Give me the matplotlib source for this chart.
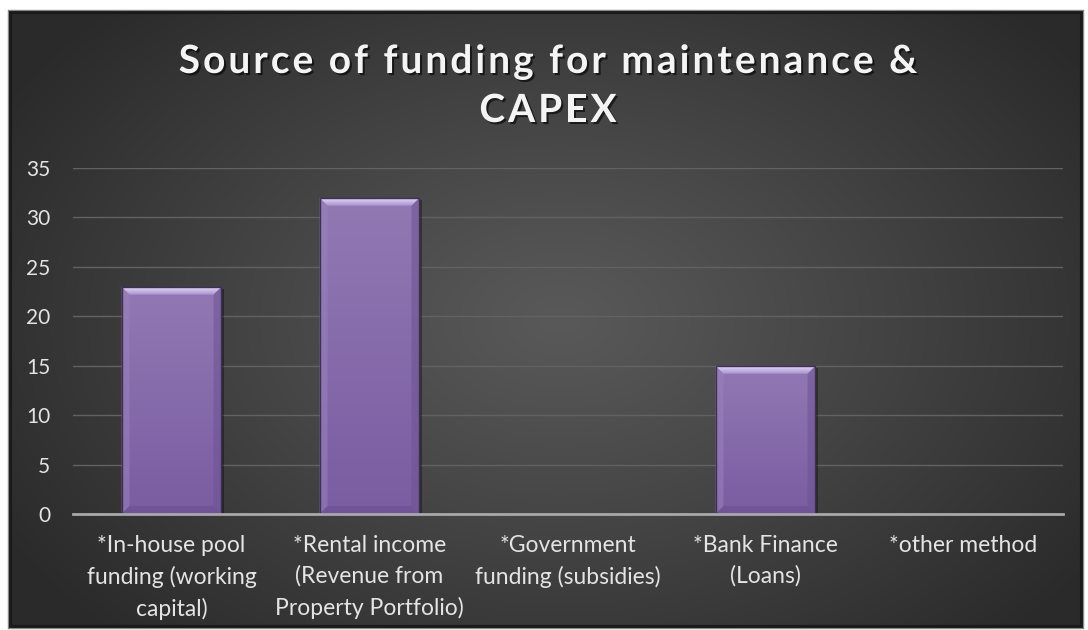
import numpy as np
import matplotlib
matplotlib.use("Agg")
import matplotlib.pyplot as plt
from matplotlib.patches import Rectangle, Polygon
from matplotlib import patheffects as pe
from matplotlib.colors import to_rgb
from matplotlib.font_manager import FontProperties, findfont, get_font

# ---- data -------------------------------------------------------------
categories = [
    "*In-house pool\nfunding (working\ncapital)",
    "*Rental income\n(Revenue from\nProperty Portfolio)",
    "*Government\nfunding (subsidies)",
    "*Bank Finance\n(Loans)",
    "*other method",
]
values = [23, 32, 0, 15, 0]
yticks = [0, 5, 10, 15, 20, 25, 30, 35]
title_lines = ["Source of funding for maintenance &", "CAPEX"]

# ---- figure & chart-area background ------------------------------------
W, H = 1088, 630
DPI = 100
fig = plt.figure(figsize=(W / DPI, H / DPI), dpi=DPI, facecolor="white")

bg = fig.add_axes([0, 0, 1, 1], zorder=0)
fx0, fy0, fx1, fy1 = 8, 10, 1083, 628
yy, xx = np.mgrid[fy0:fy1, fx0:fx1] + 0.5
d = np.sqrt(((xx - 560) / 650) ** 2 + ((yy - 320) / 440) ** 2)
t = np.clip(d, 0, 1) ** 1.1
c_in = np.array(to_rgb("#595959"))
c_out = np.array(to_rgb("#2a2a2a"))
img = c_in * (1 - t[..., None]) + c_out * t[..., None]
bg.imshow(img, extent=[fx0, fx1, fy1, fy0], interpolation="bilinear")
bg.add_patch(Rectangle((fx0 + 1.5, fy0 + 1.5), fx1 - fx0 - 3, fy1 - fy0 - 3,
                       fill=False, ec="#1a1a1a", lw=3))
bg.add_patch(Rectangle((fx0, fy0), fx1 - fx0, fy1 - fy0,
                       fill=False, ec="#8a8a8a", lw=0.8))
bg.set_xlim(0, W)
bg.set_ylim(H, 0)
bg.axis("off")

# ---- title (letter-spaced, drawn glyph by glyph) -----------------------
title_fp = FontProperties(family="Lato", weight="bold", size=28)
ft = get_font(findfont(title_fp))
ft.set_size(28, DPI)


def advances(s):
    out = []
    for ch in s:
        g = ft.load_char(ord(ch))
        out.append(g.linearHoriAdvance / 65536.0)
    return np.array(out)


tracking = 3.0          # extra px between letters
title_cx = 548
title_baselines = [73, 122]
shadow = [pe.SimplePatchShadow(offset=(1.5, -1.5), shadow_rgbFace="black",
                               alpha=0.6), pe.Normal()]
for line, base in zip(title_lines, title_baselines):
    adv = advances(line) + tracking
    total = adv.sum() - tracking
    xpos = title_cx - total / 2 + np.concatenate([[0], np.cumsum(adv)[:-1]])
    for ch, xp in zip(line, xpos):
        if ch == " ":
            continue
        fig.text(xp / W, 1 - base / H, ch, ha="left", va="baseline",
                 fontproperties=title_fp, color="#f4f4f4",
                 path_effects=shadow)

# ---- plot axes ---------------------------------------------------------
ax_l, ax_r, ax_b, ax_t = 72.5, 1062.5, 514, 168
ax = fig.add_axes([ax_l / W, (H - ax_b) / H, (ax_r - ax_l) / W, (ax_b - ax_t) / H],
                  zorder=1)
ax.set_facecolor("none")

x = np.arange(len(categories))
bars = ax.bar(x, values, width=0.505, color="none", zorder=2)

xlim = (-0.5, len(categories) - 0.5)
ylim = (0, 35)
sx = (ax_r - ax_l) / (xlim[1] - xlim[0])   # px per x unit
sy = (ax_b - ax_t) / (ylim[1] - ylim[0])   # px per y unit


def grad_fill(patch, top, bottom, z):
    """Fill a patch with a vertical gradient."""
    ax.add_patch(patch)
    if isinstance(patch, Polygon):
        v = patch.get_xy()
        x0, x1 = v[:, 0].min(), v[:, 0].max()
        y0, y1 = v[:, 1].min(), v[:, 1].max()
    else:
        x0, y0 = patch.get_x(), patch.get_y()
        x1, y1 = x0 + patch.get_width(), y0 + patch.get_height()
    n = 64
    f = np.linspace(0, 1, n)[:, None, None]
    g = np.array(to_rgb(top)) * (1 - f) + np.array(to_rgb(bottom)) * f
    im = ax.imshow(g, extent=[x0, x1, y0, y1], aspect="auto",
                   interpolation="bilinear", zorder=z)
    im.set_clip_path(patch)


bx = 8 / sx
by = 8 / sy
for rect in bars:
    h = rect.get_height()
    if h <= 0:
        continue
    x0 = rect.get_x()
    x1 = x0 + rect.get_width()
    # soft drop shadow
    ax.add_patch(Rectangle((x0 + 3 / sx, -2 / sy), x1 - x0, h, fc="black",
                           alpha=0.35, lw=0, zorder=1.8))
    # body
    body = Rectangle((x0, 0), x1 - x0, h, fc="none", lw=0, zorder=2)
    grad_fill(body, "#9279b3", "#7a5ca2", 2.0)
    # bevels
    left = Polygon([(x0, 0), (x0, h), (x0 + bx, h - by), (x0 + bx, by)],
                   closed=True, fc="#9a82bd", lw=0, alpha=0.55, zorder=2.1)
    right = Polygon([(x1, 0), (x1, h), (x1 - bx, h - by), (x1 - bx, by)],
                    closed=True, fc="#6d5393", lw=0, alpha=0.55, zorder=2.1)
    bottom = Polygon([(x0, 0), (x1, 0), (x1 - bx, by), (x0 + bx, by)],
                     closed=True, fc="#6a5090", lw=0, alpha=0.6, zorder=2.1)
    for p in (left, right, bottom):
        ax.add_patch(p)
    topb = Polygon([(x0, h), (x1, h), (x1 - bx, h - by), (x0 + bx, h - by)],
                   closed=True, fc="none", lw=0, zorder=2.2)
    grad_fill(topb, "#e4d8f8", "#a892cc", 2.2)
    # outline
    ax.add_patch(Rectangle((x0, 0), x1 - x0, h, fill=False, ec="#3e3052",
                           lw=1.0, zorder=2.3))

ax.set_xlim(*xlim)
ax.set_ylim(*ylim)

# grid, spines, ticks
ax.set_yticks(yticks)
ax.yaxis.grid(True, color="#626262", lw=1.0, zorder=0.5)
ax.set_axisbelow(True)
for s in ("left", "right", "top"):
    ax.spines[s].set_visible(False)
ax.spines["bottom"].set_color("#a9a9a9")
ax.spines["bottom"].set_linewidth(2)
ax.spines["bottom"].set_zorder(3)

ax.set_xticks(x)
ax.set_xticklabels(categories)
ax.tick_params(axis="y", length=0, pad=16, labelsize=15, labelcolor="#e4e4e4")
ax.tick_params(axis="x", length=0, pad=15, labelsize=16.5, labelcolor="#e4e4e4")
for lbl in ax.get_xticklabels() + ax.get_yticklabels():
    lbl.set_family("Lato")
for lbl in ax.get_xticklabels():
    lbl.set_linespacing(1.55)
    lbl.set_multialignment("center")

fig.savefig("out.png", dpi=DPI, facecolor="white")
